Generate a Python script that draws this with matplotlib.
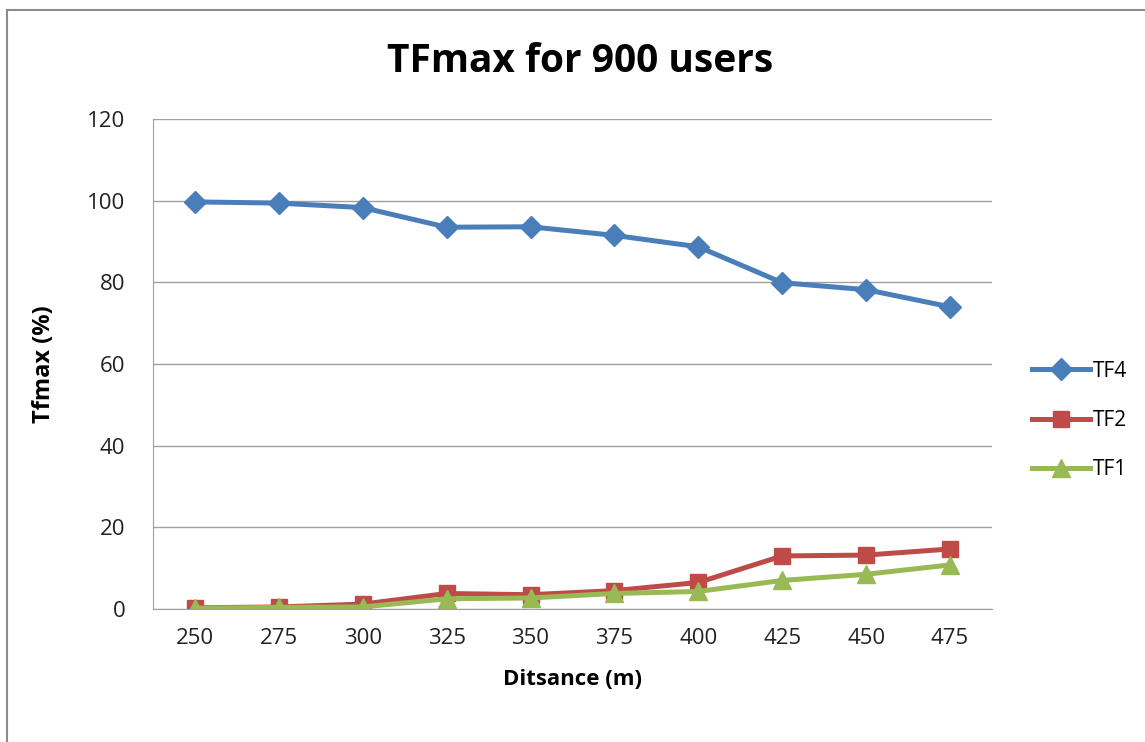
import matplotlib
matplotlib.use("Agg")
import matplotlib.pyplot as plt
from matplotlib.lines import Line2D

distances = ["250", "275", "300", "325", "350", "375", "400", "425", "450", "475"]
tf4 = [99.7, 99.4, 98.3, 93.5, 93.6, 91.5, 88.7, 79.9, 78.2, 74.0]
tf2 = [0.3, 0.5, 1.2, 3.8, 3.5, 4.5, 6.5, 13.0, 13.2, 14.7]
tf1 = [0.2, 0.4, 0.5, 2.5, 2.7, 3.8, 4.3, 7.0, 8.5, 10.8]
yticks = [0, 20, 40, 60, 80, 100, 120]

plt.rcParams['font.family'] = ['Open Sans', 'DejaVu Sans']

fig = plt.figure(figsize=(11.45, 7.42), dpi=100)
ax = fig.add_axes([153/1145, 1-609/742, (992-153)/1145, (609-119)/742])

# outer chart border (top and left visible)
fig.add_artist(Line2D([7/1145, 7/1145], [0, 1-10/742], transform=fig.transFigure, color='#8c8c8c', lw=1.5))
fig.add_artist(Line2D([7/1145, 1], [1-10/742, 1-10/742], transform=fig.transFigure, color='#8c8c8c', lw=1.5))

x = list(range(len(distances)))
ax.plot(x, tf4, color='#4a7ebb', lw=3.6, marker='D', ms=11, label='TF4')
ax.plot(x, tf2, color='#be4b48', lw=3.6, marker='s', ms=12, label='TF2')
ax.plot(x, tf1, color='#98b954', lw=3.6, marker='^', ms=13, label='TF1')

ax.set_xlim(-0.5, len(distances) - 0.5)
ax.set_ylim(0, 120)
ax.set_yticks(yticks)
ax.set_xticks(x)
ax.set_xticklabels(distances)
ax.yaxis.grid(True, color='#a0a0a0', lw=1)
ax.set_axisbelow(True)
for s in ['top', 'right']:
    ax.spines[s].set_visible(False)
for s in ['left', 'bottom']:
    ax.spines[s].set_color('#a0a0a0')
ax.tick_params(length=0, labelsize=16, colors='#222222', pad=14)
ax.tick_params(axis='y', pad=20)

ax.set_xlabel('Ditsance (m)', fontsize=16, fontweight='bold', labelpad=14)
ax.set_ylabel('Tfmax (%)', fontsize=17, fontweight='bold', labelpad=22)
fig.text(580/1145, 1 - 62/742, 'TFmax for 900 users', ha='center', va='center',
         fontsize=28, fontweight='bold')

ax.legend(loc='center left', bbox_to_anchor=(1.025, 0.385), frameon=False, fontsize=15,
          handlelength=2.8, labelspacing=1.35, handletextpad=0.15)

fig.savefig('out.png', dpi=100)
